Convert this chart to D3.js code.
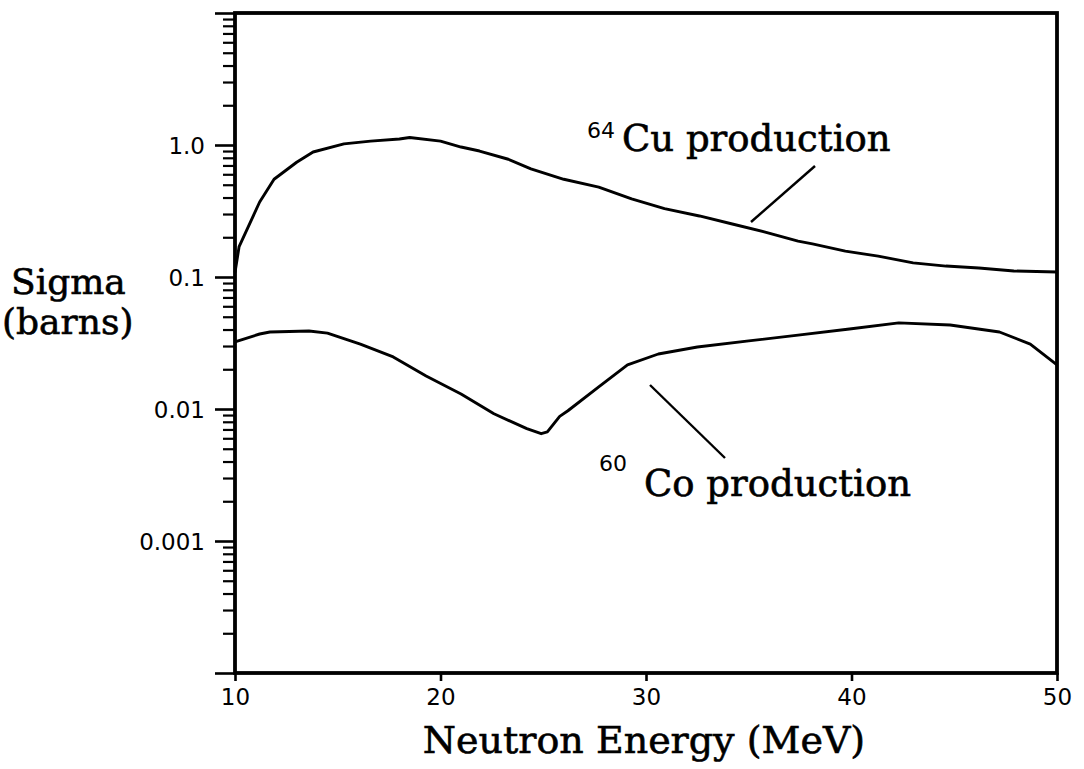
<!DOCTYPE html>
<html>
<head>
<meta charset="utf-8">
<script src="https://cdn.jsdelivr.net/npm/d3@7"></script>
<style>
  html, body { margin: 0; padding: 0; background: #fff; }
  svg { display: block; }
  .serif { font-family: "DejaVu Serif", serif; fill: #000; stroke: #000; stroke-width: 0.6px; }
  .sans { font-family: "DejaVu Sans", sans-serif; fill: #000; }
</style>
</head>
<body>
<script>
// Neutron energy (MeV) and cross sections (barns)
const cuEnergy = [10, 10.2, 11.2, 11.9, 13.0, 13.8, 15.3, 16.6, 18.0, 18.5, 20.0, 21.0, 21.9, 23.3, 24.4, 26.0, 27.7, 29.3, 30.9, 32.6, 34.2, 35.8, 37.4, 38.1, 39.7, 41.3, 43.0, 44.6, 46.2, 47.9, 50];
const cuSigma  = [0.108, 0.17, 0.37, 0.55, 0.74, 0.885, 1.02, 1.07, 1.11, 1.14, 1.07, 0.965, 0.90, 0.78, 0.66, 0.55, 0.48, 0.39, 0.33, 0.29, 0.252, 0.219, 0.187, 0.178, 0.157, 0.144, 0.128, 0.121, 0.117, 0.111, 0.109];

const coEnergy = [10, 11.2, 11.7, 13.6, 14.5, 16.1, 17.7, 19.3, 21.0, 22.6, 24.2, 24.9, 25.2, 25.8, 26.2, 27.7, 29.1, 30.6, 32.5, 35.0, 37.4, 39.9, 42.3, 44.8, 47.2, 48.7, 50];
const coSigma  = [0.0322, 0.037, 0.0383, 0.039, 0.0376, 0.031, 0.0248, 0.0178, 0.013, 0.0092, 0.0071, 0.0065, 0.0067, 0.0088, 0.0097, 0.0147, 0.0216, 0.0261, 0.0295, 0.0328, 0.0363, 0.0404, 0.0449, 0.0433, 0.0383, 0.031, 0.0216];

const xTicks = [10, 20, 30, 40, 50];
const yMajor = [0.0001, 0.001, 0.01, 0.1, 1, 10];
const yLabels = {0.001: "0.001", 0.01: "0.01", 0.1: "0.1", 1: "1.0"};

const W = 1084, H = 769;
const plotLeft = 235, plotRight = 1057, plotTop = 13, plotBottom = 673;

const svg = d3.select("body").append("svg").attr("width", W).attr("height", H);

const x = d3.scaleLinear().domain([10, 50]).range([plotLeft, plotRight]);
const y = d3.scaleLog().domain([1e-4, 10]).range([plotBottom, plotTop]);

// minor log ticks 2..9 in each decade
const yMinor = [];
for (let e = -4; e < 1; e++) {
  for (let m = 2; m <= 9; m++) yMinor.push(m * Math.pow(10, e));
}

// y axis: minor ticks
svg.append("g")
  .attr("transform", `translate(${plotLeft},0)`)
  .call(d3.axisLeft(y).tickValues(yMinor).tickSize(12).tickFormat(""))
  .call(g => g.select(".domain").remove())
  .call(g => g.selectAll("line").attr("stroke", "#000").attr("stroke-width", 2.2));

// y axis: major ticks with labels
svg.append("g")
  .attr("transform", `translate(${plotLeft},0)`)
  .call(d3.axisLeft(y).tickValues(yMajor).tickSize(20).tickPadding(10)
        .tickFormat(d => yLabels[d] || ""))
  .call(g => g.select(".domain").remove())
  .call(g => g.selectAll("line").attr("stroke", "#000").attr("stroke-width", 2.6))
  .call(g => g.selectAll("text").attr("class", "sans").style("font-size", "23px")
        .attr("font-family", null).attr("dy", "0.36em"));

// x axis ticks and labels
svg.append("g")
  .attr("transform", `translate(0,${plotBottom})`)
  .call(d3.axisBottom(x).tickValues(xTicks).tickSize(8).tickPadding(8).tickFormat(d3.format("d")))
  .call(g => g.select(".domain").remove())
  .call(g => g.selectAll("line").attr("stroke", "#000").attr("stroke-width", 2.6))
  .call(g => g.selectAll("text").attr("class", "sans").style("font-size", "23px")
        .attr("font-family", null));

// plot frame
svg.append("rect")
  .attr("x", plotLeft).attr("y", plotTop)
  .attr("width", plotRight - plotLeft).attr("height", plotBottom - plotTop)
  .attr("fill", "none").attr("stroke", "#000").attr("stroke-width", 3.8);

// curves
const line = d3.line().x(d => x(d[0])).y(d => y(d[1]));
const cuData = cuEnergy.map((e, i) => [e, cuSigma[i]]);
const coData = coEnergy.map((e, i) => [e, coSigma[i]]);

svg.append("path").datum(cuData).attr("d", line)
  .attr("fill", "none").attr("stroke", "#000").attr("stroke-width", 2.9)
  .attr("stroke-linejoin", "round");
svg.append("path").datum(coData).attr("d", line)
  .attr("fill", "none").attr("stroke", "#000").attr("stroke-width", 2.9)
  .attr("stroke-linejoin", "round");

// curve labels with leader lines
svg.append("line").attr("x1", 815).attr("y1", 166).attr("x2", 751).attr("y2", 222)
  .attr("stroke", "#000").attr("stroke-width", 2.4);
svg.append("line").attr("x1", 650).attr("y1", 385).attr("x2", 725).attr("y2", 458)
  .attr("stroke", "#000").attr("stroke-width", 2.4);

svg.append("text").attr("class", "sans").attr("x", 587).attr("y", 138)
  .style("font-size", "22px").text("64");
svg.append("text").attr("class", "serif").attr("x", 622).attr("y", 151)
  .style("font-size", "37px").text("Cu production");

svg.append("text").attr("class", "sans").attr("x", 599).attr("y", 471)
  .style("font-size", "22px").text("60");
svg.append("text").attr("class", "serif").attr("x", 644).attr("y", 496)
  .style("font-size", "37px").text("Co production");

// axis titles
svg.append("text").attr("class", "serif").attr("x", 11).attr("y", 294)
  .style("font-size", "36px").text("Sigma");
svg.append("text").attr("class", "serif").attr("x", 2).attr("y", 334)
  .style("font-size", "36px").text("(barns)");
svg.append("text").attr("class", "serif").attr("x", 644).attr("y", 753)
  .attr("text-anchor", "middle").style("font-size", "38px").text("Neutron Energy (MeV)");
</script>
</body>
</html>
